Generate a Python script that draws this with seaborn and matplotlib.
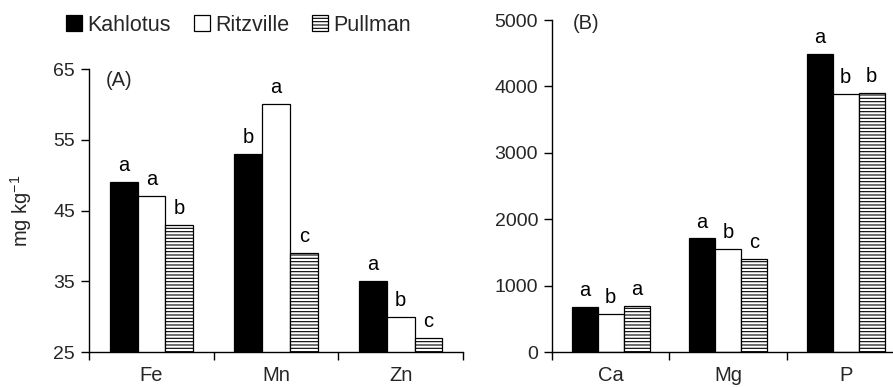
import matplotlib
matplotlib.use("Agg")
import matplotlib.pyplot as plt
from matplotlib.patches import Patch
import seaborn as sns
import pandas as pd

sites = ["Kahlotus", "Ritzville", "Pullman"]

micro_elements = ["Fe", "Mn", "Zn"]
micro_kahlotus = [49, 53, 35]
micro_ritzville = [47, 60, 30]
micro_pullman = [43, 39, 27]
micro_letters_kahlotus = ["a", "b", "a"]
micro_letters_ritzville = ["a", "a", "b"]
micro_letters_pullman = ["b", "c", "c"]

macro_elements = ["Ca", "Mg", "P"]
macro_kahlotus = [680, 1710, 4495]
macro_ritzville = [578, 1555, 3890]
macro_pullman = [692, 1405, 3905]
macro_letters_kahlotus = ["a", "a", "a"]
macro_letters_ritzville = ["b", "b", "b"]
macro_letters_pullman = ["a", "c", "b"]

sns.set_theme(style="ticks")
plt.rcParams["font.family"] = ["Liberation Sans", "DejaVu Sans"]
plt.rcParams["mathtext.fontset"] = "custom"
plt.rcParams["mathtext.rm"] = "Liberation Sans"
plt.rcParams["mathtext.default"] = "regular"
plt.rcParams["hatch.linewidth"] = 0.8

FS = 14


def long_df(elements, k, r, p):
    rows = []
    for vals, site in zip([k, r, p], sites):
        for e, v in zip(elements, vals):
            rows.append({"element": e, "site": site, "value": v})
    return pd.DataFrame(rows)


def draw(ax, elements, k, r, p, letters, ylim, yticks, panel, panel_xy):
    df = long_df(elements, k, r, p)
    sns.barplot(data=df, x="element", y="value", hue="site", hue_order=sites,
                order=elements, palette=["black", "white", "white"],
                width=0.667, edgecolor="black", linewidth=0.9, saturation=1,
                errorbar=None, legend=False, ax=ax)
    for cont, labs in zip(ax.containers, letters):
        ax.bar_label(cont, labels=labs, padding=5, fontsize=FS + 0.5, color="black")
    for bar in ax.containers[2]:
        bar.set_hatch("-----")
    ax.set_ylim(*ylim)
    ax.set_yticks(yticks)
    ax.set_xlim(-0.5, len(elements) - 0.5)
    ax.set_xticks([i - 0.5 for i in range(len(elements) + 1)])
    ax.set_xticklabels([])
    ax.set_xticks(range(len(elements)), minor=True)
    ax.set_xticklabels(elements, minor=True, fontsize=FS + 0.5)
    ax.tick_params(axis="x", which="major", length=6, width=1, color="black", direction="out")
    ax.tick_params(axis="x", which="minor", length=0, pad=10)
    ax.tick_params(axis="y", length=6, width=1, color="black", labelsize=FS, pad=4, direction="out")
    ax.set_xlabel("")
    ax.set_ylabel("")
    for s in ["top", "right"]:
        ax.spines[s].set_visible(False)
    for s in ["left", "bottom"]:
        ax.spines[s].set_color("black")
        ax.spines[s].set_linewidth(1)
    ax.text(panel_xy[0], panel_xy[1], panel, transform=ax.transAxes,
            fontsize=FS + 0.5, ha="left", va="center")


fig = plt.figure(figsize=(8.93, 3.87), dpi=100)
axA = fig.add_axes([0.0997, 0.0904, 0.4188, 0.7313])
axB = fig.add_axes([0.6181, 0.0904, 0.3947, 0.8579])

draw(axA, micro_elements, micro_kahlotus, micro_ritzville, micro_pullman,
     [micro_letters_kahlotus, micro_letters_ritzville, micro_letters_pullman],
     (25, 65), [25, 35, 45, 55, 65], "(A)", (0.045, 0.96))
draw(axB, macro_elements, macro_kahlotus, macro_ritzville, macro_pullman,
     [macro_letters_kahlotus, macro_letters_ritzville, macro_letters_pullman],
     (0, 5000), [0, 1000, 2000, 3000, 4000, 5000], "(B)", (0.06, 0.99))

axA.set_ylabel("mg kg$^{-1}$", fontsize=FS + 0.5, labelpad=14)

handles = [Patch(facecolor="black", edgecolor="black", linewidth=0.9),
           Patch(facecolor="white", edgecolor="black", linewidth=0.9),
           Patch(facecolor="white", edgecolor="black", linewidth=0.9, hatch="-----")]
fig.legend(handles, sites, loc="center", bbox_to_anchor=(0.267, 0.935), ncol=3,
           frameon=False, fontsize=FS + 1.5, handlelength=0.75, handleheight=0.75,
           handletextpad=0.25, columnspacing=1.05, borderaxespad=0)

fig.savefig("out.png", dpi=100)
